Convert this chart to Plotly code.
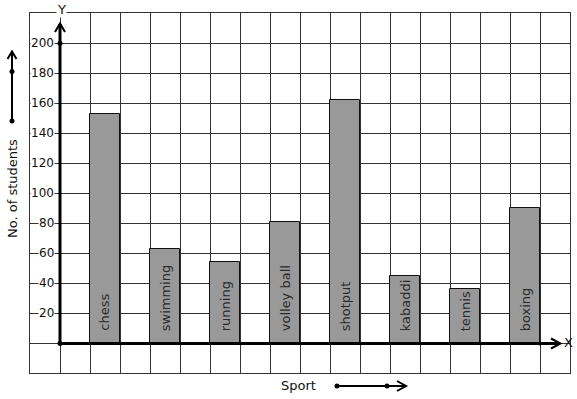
import plotly.graph_objects as go

sports = ["chess", "swimming", "running", "volley ball", "shotput", "kabaddi", "tennis", "boxing"]
students = [153, 63, 54, 81, 162, 45, 36, 90]
positions = [1.5, 3.5, 5.5, 7.5, 9.5, 11.5, 13.5, 15.5]
y_ticks = [20, 40, 60, 80, 100, 120, 140, 160, 180, 200]

W, H = 577, 399
L, R, T, B = 30, 7, 13, 26
PW, PH = W - L - R, H - T - B

def px(x):
    return (x - L) / PW

def py(y):
    return (H - B - y) / PH

FONT = "DejaVu Sans"

fig = go.Figure()
fig.add_trace(go.Bar(
    x=positions, y=students, width=1,
    marker=dict(color="#999999", line=dict(color="#111111", width=1)),
    hoverinfo="skip",
))

annotations = []
for xp, name in zip(positions, sports):
    annotations.append(dict(x=xp, y=6.5, xref="x", yref="y", text=name, textangle=-90,
                            showarrow=False, xanchor="center", yanchor="bottom",
                            font=dict(family=FONT, size=13, color="#2a2a2a")))
for v in y_ticks:
    annotations.append(dict(x=-0.17, y=v, xref="x", yref="y", text=str(v), showarrow=False,
                            xanchor="right", yanchor="middle", bgcolor="white", borderpad=0,
                            font=dict(family=FONT, size=12, color="#111111")))

def plabel(x, y, text, angle=0, bg=None):
    d = dict(x=px(x), y=py(y), xref="paper", yref="paper", text=text, textangle=angle,
             showarrow=False, xanchor="center", yanchor="middle",
             font=dict(family=FONT, size=13, color="#111111"))
    if bg:
        d["bgcolor"] = bg
        d["borderpad"] = 0
    return d

annotations += [
    plabel(12, 189, "No. of students", -90),
    plabel(298, 385, "Sport"),
    plabel(568, 342, "X"),
    plabel(61, 9, "Y", bg="white"),
]

def pline(x0, y0, x1, y1, w=2):
    return dict(type="line", xref="paper", yref="paper", x0=px(x0), y0=py(y0), x1=px(x1), y1=py(y1),
                line=dict(color="black", width=w), layer="above")

def ppath(pts, w=2):
    d = "M " + " L ".join(f"{px(a)},{py(b)}" for a, b in pts)
    return dict(type="path", xref="paper", yref="paper", path=d,
                line=dict(color="black", width=w), layer="above")

def pdot(x, y, r=2.5):
    return dict(type="circle", xref="paper", yref="paper", x0=px(x - r), x1=px(x + r),
                y0=py(y - r), y1=py(y + r), fillcolor="black", line=dict(color="black", width=0),
                layer="above")

shapes = [
    # axes
    pline(60, 343.5, 60, 24, 3),
    pline(60, 343.5, 559, 343.5, 3),
    ppath([(55, 32), (60, 23.5), (65, 32)], 2),
    ppath([(551, 338.5), (560.5, 343.5), (551, 348.5)], 2),
    pdot(60, 343.5), pdot(60, 43.3), pdot(540, 343.5, 2),
    # y title arrow
    pline(12, 121, 12, 52, 2),
    ppath([(7.5, 59), (12, 51.5), (16.5, 59)], 2),
    pdot(12, 121), pdot(12, 71.5),
    # sport arrow
    pline(337, 386, 405, 386, 2),
    ppath([(397, 381), (406, 386), (397, 391)], 2),
    pdot(337, 386), pdot(387, 386),
]

fig.update_layout(
    width=W, height=H,
    margin=dict(l=L, r=R, t=T, b=B, pad=0),
    paper_bgcolor="white", plot_bgcolor="white",
    showlegend=False,
    bargap=0,
    xaxis=dict(range=[-1, 17], tickmode="linear", tick0=-1, dtick=1, showticklabels=False,
               showgrid=True, gridcolor="#333333", gridwidth=1, zeroline=False,
               showline=True, mirror=True, linecolor="#333333", linewidth=1, ticks=""),
    yaxis=dict(range=[-20, 220], tickmode="linear", tick0=-20, dtick=20, showticklabels=False,
               showgrid=True, gridcolor="#333333", gridwidth=1, zeroline=False,
               showline=True, mirror=True, linecolor="#333333", linewidth=1, ticks=""),
    annotations=annotations,
    shapes=shapes,
)

fig.write_html("out.html")
